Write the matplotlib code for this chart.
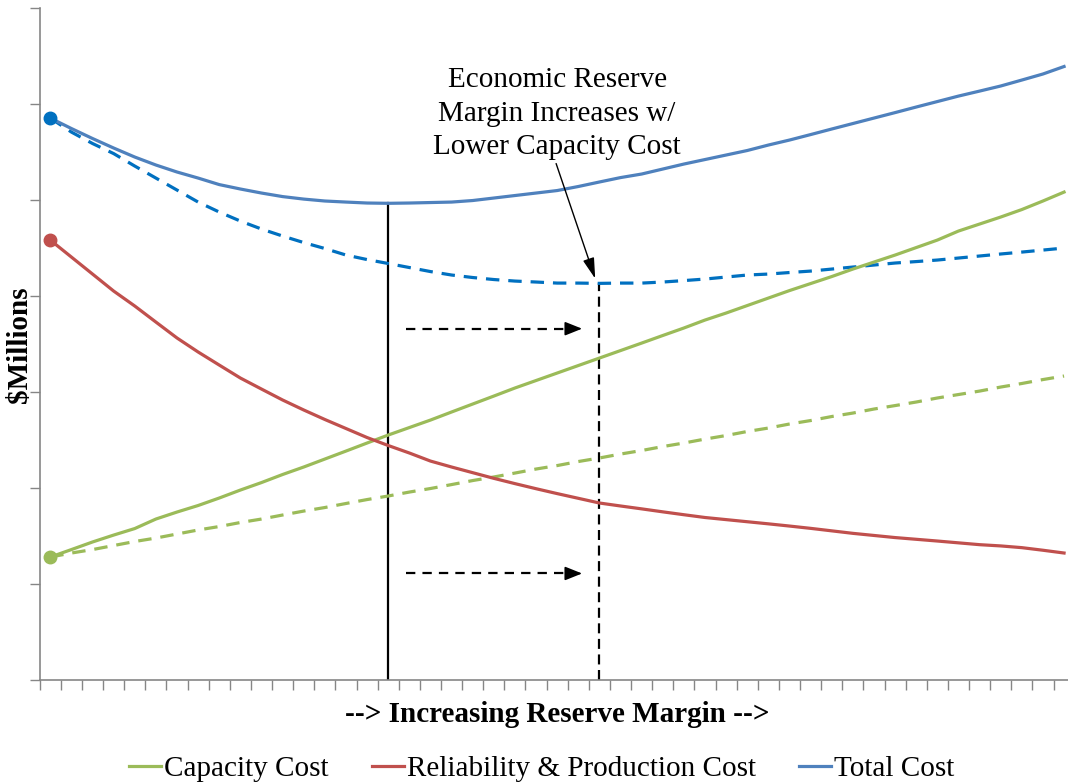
import numpy as np
import matplotlib.pyplot as plt

plt.rcParams['font.family'] = ['Liberation Serif', 'DejaVu Serif']

# values in chart units (axis has no labels; 7 gridline steps)
capacity_cost = [1.281, 1.359, 1.438, 1.510, 1.578, 1.677, 1.750, 1.818, 1.896, 1.979,
                 2.057, 2.141, 2.219, 2.302, 2.385, 2.469, 2.552, 2.630, 2.708, 2.792,
                 2.875, 2.958, 3.042, 3.120, 3.198, 3.276, 3.354, 3.432, 3.510, 3.589,
                 3.667, 3.750, 3.823, 3.901, 3.979, 4.057, 4.130, 4.203, 4.281, 4.354,
                 4.427, 4.505, 4.583, 4.677, 4.750, 4.823, 4.901, 4.990, 5.083]
capacity_cost_low = [1.281, 1.323, 1.359, 1.401, 1.443, 1.479, 1.521, 1.563, 1.599, 1.641,
                     1.677, 1.719, 1.760, 1.797, 1.839, 1.880, 1.917, 1.958, 1.995, 2.036,
                     2.078, 2.115, 2.156, 2.198, 2.234, 2.276, 2.313, 2.354, 2.391, 2.432,
                     2.469, 2.510, 2.547, 2.589, 2.625, 2.667, 2.703, 2.745, 2.781, 2.823,
                     2.859, 2.896, 2.938, 2.974, 3.010, 3.052, 3.089, 3.130, 3.167]
reliability_cost = [4.583, 4.406, 4.229, 4.052, 3.896, 3.729, 3.563, 3.417, 3.281, 3.146,
                    3.031, 2.917, 2.813, 2.714, 2.620, 2.526, 2.443, 2.365, 2.281, 2.219,
                    2.160, 2.101, 2.046, 1.993, 1.942, 1.893, 1.844, 1.813, 1.783, 1.752,
                    1.722, 1.693, 1.671, 1.649, 1.627, 1.604, 1.580, 1.554, 1.528, 1.506,
                    1.484, 1.466, 1.448, 1.429, 1.410, 1.397, 1.379, 1.352, 1.323]
total_cost = [5.854, 5.745, 5.641, 5.542, 5.448, 5.365, 5.292, 5.229, 5.161, 5.115,
              5.073, 5.036, 5.010, 4.990, 4.979, 4.969, 4.966, 4.969, 4.974, 4.979,
              4.995, 5.021, 5.047, 5.073, 5.099, 5.141, 5.188, 5.234, 5.271, 5.323,
              5.375, 5.422, 5.469, 5.516, 5.573, 5.625, 5.682, 5.740, 5.797, 5.854,
              5.911, 5.969, 6.026, 6.083, 6.135, 6.188, 6.250, 6.313, 6.391]
total_cost_low = [5.854, 5.708, 5.589, 5.484, 5.354, 5.229, 5.104, 4.979, 4.875, 4.781,
                  4.698, 4.625, 4.557, 4.495, 4.427, 4.380, 4.339, 4.297, 4.255, 4.219,
                  4.193, 4.172, 4.156, 4.146, 4.135, 4.135, 4.132, 4.135, 4.135, 4.146,
                  4.161, 4.177, 4.198, 4.219, 4.229, 4.245, 4.260, 4.281, 4.302, 4.323,
                  4.344, 4.359, 4.375, 4.396, 4.417, 4.438, 4.458, 4.479, 4.500]

econ_rm = 16       # category of minimum total cost
econ_rm_low = 26   # minimum with lower capacity cost
arrow_levels = [3.66, 1.11]

green = '#9BBB59'
red = '#C0504D'
blue = '#4F81BD'
blue2 = '#0070C0'
gray = '#868686'

fig = plt.figure(figsize=(10.68, 7.82), dpi=100)
ax = fig.add_axes([0.0372, 0.1304, 0.969, 0.8593])
x = np.arange(len(total_cost))

lw = 2.3
ax.plot(x, capacity_cost_low, color=green, lw=lw, dashes=(4.2, 2.8))
ax.plot(x, total_cost_low, color=blue2, lw=lw, dashes=(4.2, 2.8))
ax.plot(x, capacity_cost, color=green, lw=lw, label='Capacity Cost')
ax.plot(x, reliability_cost, color=red, lw=lw, label='Reliability & Production Cost')
ax.plot(x, total_cost, color=blue, lw=lw, label='Total Cost')

# start markers
ax.plot(x[0], capacity_cost[0], 'o', color=green, ms=9, zorder=5)
ax.plot(x[0], reliability_cost[0], 'o', color=red, ms=9, zorder=5)
ax.plot(x[0], total_cost[0], 'o', color=blue2, ms=9, zorder=5)

# economic reserve margin markers
ax.plot([econ_rm, econ_rm], [0, total_cost[econ_rm]], color='black', lw=1.6, zorder=1)
ax.plot([econ_rm_low, econ_rm_low], [0, total_cost_low[econ_rm_low]], color='black',
        lw=1.6, dashes=(4.5, 2.5), zorder=1)

for lev in arrow_levels:
    ax.plot([econ_rm + 0.85, econ_rm_low - 1.1], [lev, lev], color='black', lw=1.6,
            dashes=(4.2, 3.2))
    ax.annotate('', xy=(econ_rm_low - 0.82, lev), xytext=(econ_rm_low - 1.3, lev),
                arrowprops=dict(arrowstyle='-|>,head_width=0.3,head_length=0.75',
                                color='black', lw=1.2, mutation_scale=14,
                                shrinkA=0, shrinkB=0))

ax.text(24.0, 5.90, 'Economic Reserve\nMargin Increases w/\nLower Capacity Cost',
        ha='center', va='center', fontsize=21, linespacing=1.38)
ax.annotate('', xy=(econ_rm_low - 0.2, total_cost_low[econ_rm_low] + 0.05),
            xytext=(23.95, 5.38),
            arrowprops=dict(arrowstyle='-|>,head_width=0.25,head_length=0.9',
                            color='black', lw=1, mutation_scale=14,
                            shrinkA=0, shrinkB=0))

ax.set_xlim(-0.5, len(x) - 0.5)
ax.set_ylim(0, 7)
ax.set_xticks(np.arange(-0.5, len(x), 1))
ax.set_yticks(range(8))
ax.set_xticklabels([])
ax.set_yticklabels([])
ax.tick_params(axis='both', direction='out', length=7, width=1, color=gray)
for s in ['top', 'right']:
    ax.spines[s].set_visible(False)
for s in ['left', 'bottom']:
    ax.spines[s].set_color(gray)
    ax.spines[s].set_linewidth(1.2)

fig.text(557 / 1068, 1 - 714 / 782, '--> Increasing Reserve Margin -->',
         ha='center', va='center', fontsize=21, fontweight='bold')
fig.text(20 / 1068, 1 - 345 / 782, r'\$Millions', rotation=90,
         ha='center', va='center', fontsize=21, fontweight='bold')

fig.legend(loc='center', bbox_to_anchor=(0.507, 0.0165), ncol=3, frameon=False,
           fontsize=21, handlelength=1.1, handletextpad=0.1, columnspacing=1.48)

fig.savefig('out.png', dpi=100)
